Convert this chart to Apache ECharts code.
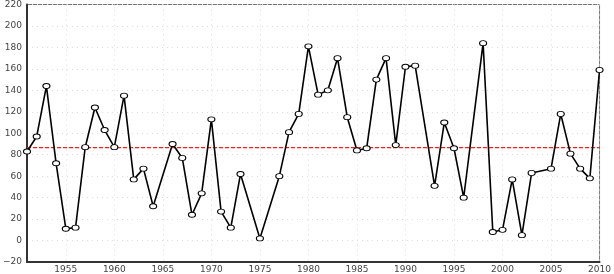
<!DOCTYPE html>
<html><head><meta charset="utf-8">
<script src="https://cdn.jsdelivr.net/npm/echarts@6/dist/echarts.min.js"></script>
<style>html,body{margin:0;padding:0;background:#fff}#c{width:614px;height:274px}</style>
</head><body><div id="c"></div>
<script>
var years = [];
for (var y = 1951; y <= 2010; y++) years.push(String(y));
var values = [83, 97, 144, 72, 11, 12, 87, 124, 103, 87,
  135, 57, 67, 32, null, 90, 77, 24, 44, 113,
  27, 12, 62, null, 2, null, 60, 101, 118, 181,
  136, 140, 170, 115, 84, 86, 150, 170, 89, 162,
  163, null, 51, 110, 86, 40, null, 184, 8, 10,
  57, 5, 63, null, 67, 118, 81, 67, 58, 159];
var meanValue = 86.6;
var yTicks = [-20, 0, 20, 40, 60, 80, 100, 120, 140, 160, 180, 200, 220];

var chart = echarts.init(document.getElementById('c'));
chart.setOption({
  animation: false,
  grid: {left: 27, right: 13, top: 4, bottom: 10, show: true, borderColor: '#777', borderWidth: 1},
  xAxis: {
    type: 'category', data: years, boundaryGap: false,
    axisLine: {onZero: false, lineStyle: {color: '#333', width: 2}},
    axisTick: {show: false},
    axisLabel: {interval: function(i, v){ return (+v) % 5 === 0; }, fontSize: 9, color: '#444', margin: 3, fontFamily: 'DejaVu Sans'},
    splitLine: {show: true, interval: function(i, v){ return (+v) % 5 === 0; }, lineStyle: {color: '#ddd', type: [1, 4], width: 1}}
  },
  yAxis: {
    type: 'value', min: yTicks[0], max: yTicks[yTicks.length-1], interval: 20,
    axisLine: {show: true, onZero: false, lineStyle: {color: '#333', width: 2}},
    axisTick: {show: false},
    axisLabel: {fontSize: 9, color: '#444', margin: 5, fontFamily: 'DejaVu Sans',
      formatter: function(v){ return v < 0 ? '\u2212' + (-v) : String(v); }},
    splitLine: {show: true, lineStyle: {color: '#ddd', type: [1, 4], width: 1}}
  },
  series: [{
    type: 'line', z: 2, symbol: 'none', silent: true,
    data: [[years[0], meanValue], [years[years.length - 1], meanValue]],
    lineStyle: {color: '#ff1a1a', type: [4, 2], width: 1.4}
  }, {
    type: 'line', data: values, connectNulls: true,
    symbol: 'circle', symbolSize: [7, 5], showAllSymbol: true,
    itemStyle: {color: '#fff', borderColor: '#000', borderWidth: 1},
    lineStyle: {color: '#000', width: 1.6},
    z: 3
  }]
});
</script></body></html>
